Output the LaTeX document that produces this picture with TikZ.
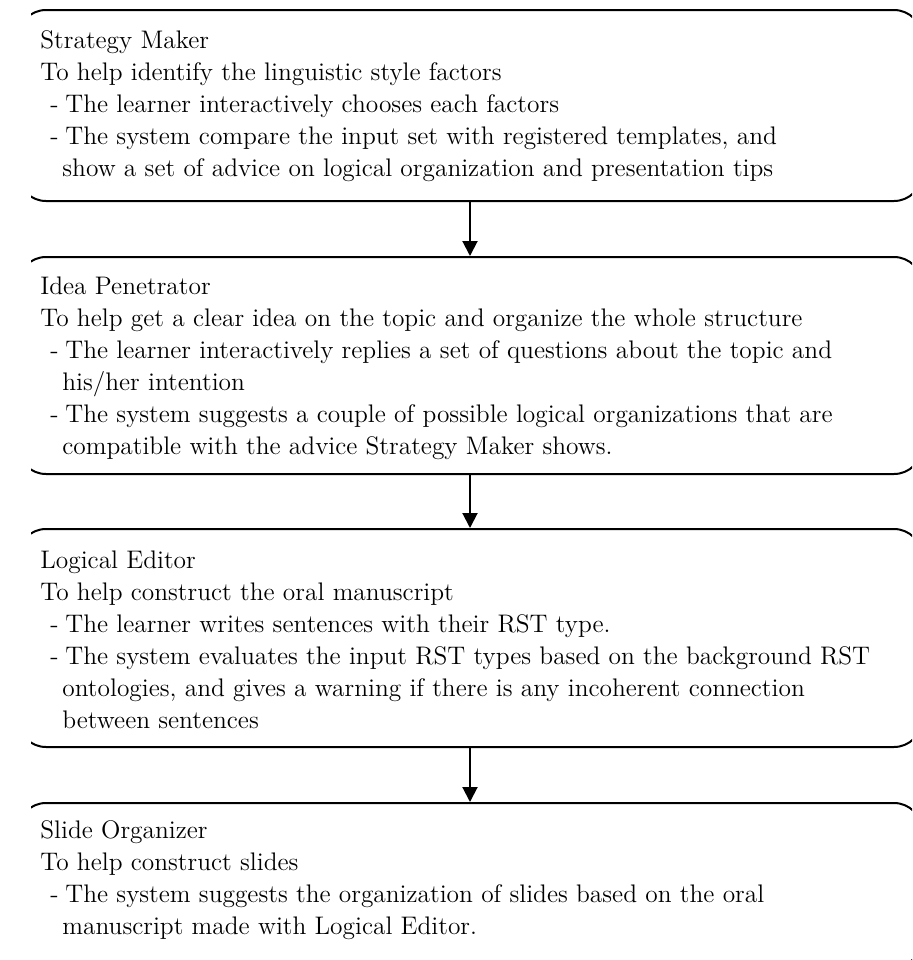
\documentclass[tikz,border=0pt]{standalone}
\usetikzlibrary{arrows.meta}
% bullet line: small hyphen followed by the item text
\newcommand\hyph{\hspace*{5pt}\makebox[7.5pt][l]{-}}
% continuation line of a bullet item
\newcommand\contind{\hspace*{11pt}}
\begin{document}
\begin{tikzpicture}[x=0.5pt,y=-0.5pt,
  stagebox/.style={draw, line width=1pt, rounded corners=14pt, anchor=north west,
    inner sep=0pt, minimum width=452pt},
  stagetext/.style={anchor=north west, inner sep=0pt, align=left,
    font=\fontsize{12.7}{16}\selectfont},
  flow/.style={line width=1pt, -{Triangle[length=7.5pt,width=7.5pt]}}]
\useasboundingbox (0,0) rectangle (912,960);

% the four stage frames, trimmed at the sides
\begin{scope}
  \clip (31,0) rectangle (912,960);
  \node[stagebox, minimum height=95.5pt] (b1) at (17,9) {};
  \node[stagebox, minimum height=108.5pt] (b2) at (17,256) {};
  \node[stagebox, minimum height=109pt] (b3) at (17,528) {};
  \node[stagebox, minimum height=82pt] (b4) at (17,802) {};
\end{scope}

% stage descriptions
\node[stagetext] (t1) at (40,30) {\rule{0pt}{9pt}Strategy Maker\\
To help identify the linguistic style factors\\
\hyph The learner interactively chooses each factors\\
\hyph The system compare the input set with registered templates, and\\
\contind show a set of advice on logical organization and presentation tips};

\node[stagetext] (t2) at (40,276) {\rule{0pt}{9pt}Idea Penetrator\\
To help get a clear idea on the topic and organize the whole structure\\
\hyph The learner interactively replies a set of questions about the topic and\\
\contind his/her intention\\
\hyph The system suggests a couple of possible logical organizations that are\\
\contind compatible with the advice Strategy Maker shows.};

\node[stagetext] (t3) at (40,550) {\rule{0pt}{9pt}Logical Editor\\
To help construct the oral manuscript\\
\hyph The learner writes sentences with their RST type.\\
\hyph The system evaluates the input RST types based on the background RST\\
\contind ontologies, and gives a warning if there is any incoherent connection\\
\contind between sentences};

\node[stagetext] (t4) at (40,820) {\rule{0pt}{9pt}Slide Organizer\\
To help construct slides\\
\hyph The system suggests the organization of slides based on the oral\\
\contind manuscript made with Logical Editor.};

% flow between stages
\draw[flow] (b1.south) -- (b2.north);
\draw[flow] (b2.south) -- (b3.north);
\draw[flow] (b3.south) -- (b4.north);
\end{tikzpicture}
\end{document}
